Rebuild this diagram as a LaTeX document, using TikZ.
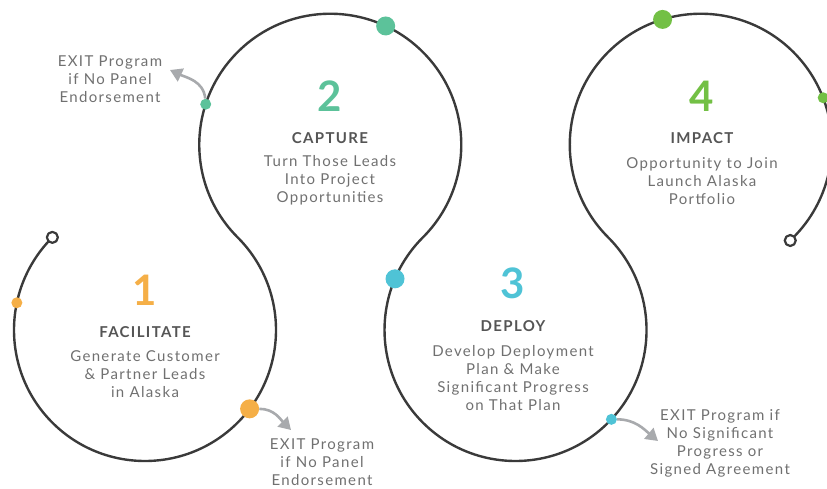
\documentclass[tikz,border=0pt]{standalone}
\usepackage{fontspec}
\setmainfont{Lato}[LetterSpace=9]
\usetikzlibrary{arrows.meta}
\usetikzlibrary{calc}
\definecolor{loopc}{HTML}{3A3A3A}
\definecolor{orng}{HTML}{F5AF47}
\definecolor{grn}{HTML}{5CC29A}
\definecolor{tl}{HTML}{4FC3D6}
\definecolor{lm}{HTML}{73C045}
\definecolor{ttl}{HTML}{555555}
\definecolor{txt}{HTML}{707070}
\definecolor{arr}{HTML}{A8AAAD}
\tikzset{dt/.style={circle,fill=#1,inner sep=0pt,minimum size=11pt}}
\tikzset{bdt/.style={circle,fill=#1,inner sep=0pt,minimum size=19pt}}
\tikzset{ring/.style={circle,draw=loopc,line width=2.2pt,fill=white,inner sep=0pt,minimum size=11pt}}
\tikzset{num/.style={text=#1,font=\fontsize{42}{42}\selectfont\bfseries}}
\tikzset{hd/.style={text=ttl,font=\fontsize{15}{15}\selectfont\bfseries}}
\tikzset{dsc/.style={text=txt,align=center,font=\fontsize{15}{18}\selectfont}}
\tikzset{ex/.style={draw=arr,line width=2.6pt,-{Triangle[length=12pt,width=14pt]}}}
\begin{document}
\begin{tikzpicture}[x=1pt,y=1pt,line join=round]
  \useasboundingbox (0,0) rectangle (827,488);
  \coordinate (c1) at (145,158);
  \coordinate (c2) at (330.3,343.3);
  \coordinate (c3) at (515.6,158);
  \coordinate (c4) at (700.9,343.3);
  \draw[loopc,line width=2.4pt] ($(c1)+(135:131)$)
    arc[start angle=135,end angle=405,radius=131]
    arc[start angle=225,end angle=-45,radius=131]
    arc[start angle=135,end angle=405,radius=131]
    arc[start angle=225,end angle=-47,radius=131];
  \node[ring] (st) at ($(c1)+(135:131)$) {};
  \node[ring] (en) at ($(c4)+(-47:131)$) {};
  \coordinate (x1) at (170,418);
  \coordinate (x2) at (291,58);
  \coordinate (x3) at (658,47);
  \node[dt=orng] (o1) at ($(c1)+(168:131)$) {};
  \node[bdt=orng] (o2) at ($(c1)+(-37:131)$) {};
  \node[dt=grn] (g1) at ($(c2)+(162:131)$) {};
  \node[bdt=grn] (g2) at ($(c2)+(65:131)$) {};
  \node[bdt=tl] (b1) at ($(c3)+(157:131)$) {};
  \node[dt=tl] (b2) at ($(c3)+(-43:131)$) {};
  \node[bdt=lm] (l1) at ($(c4)+(107:131)$) {};
  \node[dt=lm] (l2) at ($(c4)+(21:131)$) {};
  \draw[ex] (g1) to[out=95,in=-25] (x1);
  \draw[ex] (o2) to[out=0,in=135] (x2);
  \draw[ex] (b2) to[out=0,in=140] (x3);
  \node[num=orng] (n1) at (145,198) {1};
  \node[hd] (h1) at (145,156) {FACILITATE};
  \node[dsc] (d1) at (145,114) {Generate Customer\\\& Partner Leads\\in Alaska};
  \node[num=grn] (n2) at (330,392) {2};
  \node[hd] (h2) at (330,350) {CAPTURE};
  \node[dsc] (d2) at (330,308) {Turn Those Leads\\Into Project\\Opportunities};
  \node[num=tl] (n3) at (513,205) {3};
  \node[hd] (h3) at (513,162) {DEPLOY};
  \node[dsc] (d3) at (513,110) {Develop Deployment\\Plan \& Make\\Significant Progress\\on That Plan};
  \node[num=lm] (n4) at (702,392) {4};
  \node[hd] (h4) at (702,350) {IMPACT};
  \node[dsc] (d4) at (702,307) {Opportunity to Join\\Launch Alaska\\Portfolio};
  \node[dsc] (e1) at (110,409) {EXIT Program\\if No Panel\\Endorsement};
  \node[dsc] (e2) at (322,26) {EXIT Program\\if No Panel\\Endorsement};
  \node[dsc] (e3) at (720,45) {EXIT Program if\\No Significant\\Progress or\\Signed Agreement};
\end{tikzpicture}
\end{document}
